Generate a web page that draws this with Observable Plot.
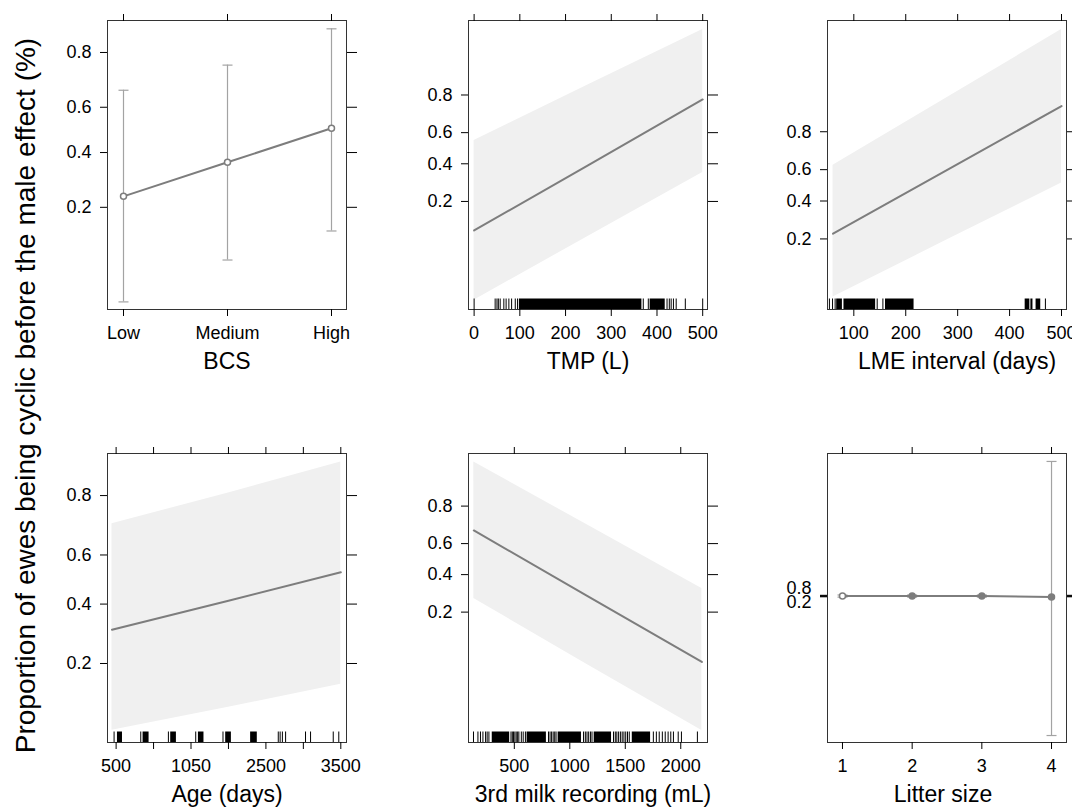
<!DOCTYPE html>
<html><head><meta charset="utf-8">
<script src="https://cdn.jsdelivr.net/npm/d3@7"></script>
<script src="https://cdn.jsdelivr.net/npm/@observablehq/plot@0.6"></script>
<style>
html,body{margin:0;padding:0;background:#fff;overflow:hidden;}
#chart{position:relative;width:1072px;height:808px;overflow:hidden;background:#fff;font-family:"Liberation Sans",Arial,sans-serif;}
</style></head><body><div id="chart"></div>
<script>
// ---------- data (fitted values on the logit / linear-predictor scale) ----------
const yTickProbs = [0.2, 0.4, 0.6, 0.8];
const yTitle = "Proportion of ewes being cyclic before the male effect (%)";

// BCS
const bcsLevels = ["Low", "Medium", "High"];
const bcsFit = [-1.19, -0.58, 0.03];
const bcsLower = [-3.08, -2.33, -1.81];
const bcsUpper = [0.71, 1.16, 1.81];

// TMP (L)
const tmpX = [0, 250, 500];
const tmpFit = [-2.14, -0.44, 1.27];
const tmpLower = [-3.96, -2.29, -0.63];
const tmpUpper = [0.20, 1.65, 3.09];
const tmpTicks = [0, 100, 200, 300, 400, 500];
const tmpRug = [0, 46, 50, 53, 57, 65, 70, 76, 82, 90, 95, 370, 381, 422, 427, 431, 436, 442, 462, 500];
const tmpRugBlocks = [[99, 367], [385, 418]];

// LME interval (days)
const lmeX = [60, 280, 500];
const lmeFit = [-1.25, 0.40, 2.05];
const lmeLower = [-2.89, -1.41, 0.06];
const lmeUpper = [0.52, 2.27, 4.03];
const lmeTicks = [100, 200, 300, 400, 500];
const lmeRug = [53, 59, 64, 145, 156, 469];
const lmeRugBlocks = [[67, 78], [81, 142], [161, 216], [430, 439], [441, 445], [451, 460]];

// Age (days)
const ageX = [445, 2000, 3500];
const ageFit = [-0.83, -0.35, 0.12];
const ageLower = [-2.49, -2.11, -1.73];
const ageUpper = [0.92, 1.43, 1.94];
const ageTicks = [500, 1000, 1500, 2000, 2500, 3000, 3500];
const ageTickLabels = ["500", "", "1050", "", "2500", "", "3500"];
const ageRug = [473, 829, 1198, 1563, 1927, 2665, 2690, 2720, 2763, 3029, 3096, 3399, 3473];
const ageRugBlocks = [[518, 585], [860, 940], [1229, 1305], [1599, 1673], [1963, 2039], [2296, 2385]];

// 3rd milk recording (mL)
const milkX = [135, 1160, 2190];
const milkFit = [0.75, -0.97, -2.69];
const milkLower = [-1.03, -2.76, -4.48];
const milkUpper = [2.54, 0.89, -0.77];
const milkTicks = [500, 1000, 1500, 2000];
const milkRug = [132, 172, 195, 217, 241, 255, 271, 470, 482, 493, 505, 517, 530, 541, 563, 580, 600,
  808, 822, 836, 850, 864, 876, 1124, 1140, 1155, 1170, 1186, 1200, 1394, 1410, 1424, 1440, 1456, 1472,
  1488, 1504, 1520, 1536, 1753, 1780, 1806, 1834, 1860, 1886, 1910, 1934, 1977, 2006, 2150];
const milkRugBlocks = [[301, 458], [615, 789], [895, 1105], [1220, 1376], [1563, 1728]];

// Litter size
const litterLevels = [1, 2, 3, 4];
const litterFit = [0, 0, 0, -1.9];
const litterLower = [-2, -2, -2, -258];
const litterUpper = [2, 2, 2, 249];
const litterShownLabels = [0.8, 0.2];

// ---------- helpers ----------
const logit = p => Math.log(p / (1 - p));
const invlogit = z => 1 / (1 + Math.exp(-z));
const FONT = '"Liberation Sans", Arial, sans-serif';
const FS = 18;
const FW = 239, FH = 289, RUG = 10.5;
const M = {top: 30, right: 20, bottom: 70, left: 80};
const BAND = "#f0f0f0", LINE = "#7d7d7d", ERR = "#a3a3a3";
const chart = document.getElementById("chart");
const yTicks = yTickProbs.map(logit);
const fmt = d3.format(".1f");

const capSymbol = {draw(ctx, size) { const r = Math.sqrt(size / Math.PI); ctx.moveTo(-r, 0); ctx.lineTo(r, 0); }};

function contMarks(xs, fit, lo, hi, rug, blocks) {
  const rows = xs.map((x, i) => ({x, fit: fit[i], lo: lo[i], hi: hi[i]}));
  return [
    Plot.areaY(rows, {x: "x", y1: "lo", y2: "hi", fill: BAND, clip: true}),
    Plot.rect(blocks, {x1: d => d[0], x2: d => d[1], insetTop: FH - RUG, fill: "#000"}),
    Plot.ruleX(rug, {x: d => d, insetTop: FH - RUG, stroke: "#000", strokeWidth: 1}),
    Plot.line(rows, {x: "x", y: "fit", stroke: LINE, strokeWidth: 2, clip: true})
  ];
}
function factorMarks(xs, fit, lo, hi, filledFrom) {
  const rows = xs.map((x, i) => ({x, fit: fit[i], lo: lo[i], hi: hi[i]}));
  return [
    Plot.ruleX(rows, {x: "x", y1: "lo", y2: "hi", stroke: ERR, strokeWidth: 1.2}),
    Plot.dot(rows, {x: "x", y: "lo", symbol: capSymbol, r: 5, stroke: ERR, strokeWidth: 1.2, fill: "none"}),
    Plot.dot(rows, {x: "x", y: "hi", symbol: capSymbol, r: 5, stroke: ERR, strokeWidth: 1.2, fill: "none"}),
    Plot.line(rows, {x: "x", y: "fit", stroke: LINE, strokeWidth: 2}),
    Plot.dot(rows.slice(0, filledFrom), {x: "x", y: "fit", r: 3, stroke: LINE, strokeWidth: 1.5, fill: "#fff"}),
    Plot.dot(rows.slice(filledFrom), {x: "x", y: "fit", r: 3, stroke: LINE, strokeWidth: 1.5, fill: LINE})
  ];
}

function panel({left, top, x, yDomain, xTicks, xFormat, title, titleDx = 0, marks, customY = false}) {
  const extra = [];
  if (customY) {
    extra.push(
      Plot.text([litterShownLabels[0]], {y: d => logit(d), text: d => fmt(d), frameAnchor: "left", textAnchor: "end", dx: -16, dy: -7, fontSize: FS}),
      Plot.text([litterShownLabels[1]], {y: d => logit(d), text: d => fmt(d), frameAnchor: "left", textAnchor: "end", dx: -16, dy: 5, fontSize: FS})
    );
  }
  const svg = Plot.plot({
    width: FW + M.left + M.right, height: FH + M.top + M.bottom,
    marginLeft: M.left, marginRight: M.right, marginTop: M.top, marginBottom: M.bottom,
    style: {fontFamily: FONT, fontSize: FS + "px", color: "#000", background: "transparent", overflow: "visible"},
    x, y: {type: "linear", domain: yDomain},
    marks: [
      ...marks,
      Plot.frame({stroke: "#333"}),
      Plot.axisX({anchor: "top", ticks: xTicks, tickFormat: () => "", tickSize: 7, label: null, stroke: "#000"}),
      Plot.axisX({anchor: "bottom", ticks: xTicks, tickFormat: xFormat, tickSize: 7, tickPadding: 10, label: null, stroke: "#000", fill: "#000", fontSize: FS}),
      Plot.axisY({anchor: "left", ticks: yTicks, tickFormat: customY ? () => "" : d => fmt(invlogit(d)), tickSize: 7, tickPadding: 9, label: null, stroke: "#000", fill: "#000", fontSize: FS}),
      Plot.axisY({anchor: "right", ticks: yTicks, tickFormat: () => "", tickSize: 10, label: null, stroke: "#000"}),
      ...extra,
      Plot.text([title], {text: d => d, frameAnchor: "bottom", lineAnchor: "bottom", dy: 59, dx: titleDx, fontSize: 23, fill: "#000"})
    ]
  });
  svg.style.position = "absolute";
  svg.style.left = (left - M.left) + "px";
  svg.style.top = (top - M.top) + "px";
  chart.append(svg);
}

const id = d => String(d);
const C = [107, 467.5, 827], R = [20, 453.3];

panel({left: C[0], top: R[0], x: {type: "point", domain: bcsLevels, padding: 0.144},
  yDomain: [-3.216, 1.959], xTicks: bcsLevels, xFormat: id, title: "BCS",
  marks: factorMarks(bcsLevels, bcsFit, bcsLower, bcsUpper, 3)});

panel({left: C[1], top: R[0], x: {type: "linear", domain: [-12.3, 510.5]},
  yDomain: [-4.20, 3.326], xTicks: tmpTicks, xFormat: id, title: "TMP (L)",
  marks: contMarks(tmpX, tmpFit, tmpLower, tmpUpper, tmpRug, tmpRugBlocks)});

panel({left: C[2], top: R[0], x: {type: "linear", domain: [49.3, 509.6]},
  yDomain: [-3.212, 4.264], xTicks: lmeTicks, xFormat: id, title: "LME interval (days)", titleDx: 10,
  marks: contMarks(lmeX, lmeFit, lmeLower, lmeUpper, lmeRug, lmeRugBlocks)});

const ageLabel = new Map(ageTicks.map((t, i) => [t, ageTickLabels[i]]));
panel({left: C[0], top: R[1], x: {type: "linear", domain: [385, 3576]},
  yDomain: [-2.691, 2.081], xTicks: ageTicks, xFormat: d => ageLabel.get(d), title: "Age (days)",
  marks: contMarks(ageX, ageFit, ageLower, ageUpper, ageRug, ageRugBlocks)});

panel({left: C[1], top: R[1], x: {type: "linear", domain: [87, 2241]},
  yDomain: [-4.796, 2.762], xTicks: milkTicks, xFormat: id, title: "3rd milk recording (mL)", titleDx: 5,
  marks: contMarks(milkX, milkFit, milkLower, milkUpper, milkRug, milkRugBlocks)});

panel({left: C[2], top: R[1], x: {type: "linear", domain: [0.785, 4.215]},
  yDomain: [-270.9, 263.7], xTicks: litterLevels, xFormat: id, title: "Litter size", titleDx: -4,
  customY: true, marks: factorMarks(litterLevels, litterFit, litterLower, litterUpper, 1)});

// shared y-axis title
const ns = "http://www.w3.org/2000/svg";
const ys = document.createElementNS(ns, "svg");
ys.setAttribute("width", 60); ys.setAttribute("height", 808);
ys.style.position = "absolute"; ys.style.left = "0px"; ys.style.top = "0px";
const yt = document.createElementNS(ns, "text");
yt.setAttribute("transform", "translate(35,395.5) rotate(-90)");
yt.setAttribute("text-anchor", "middle");
yt.setAttribute("font-family", FONT.replace(/"/g, ""));
yt.setAttribute("font-size", "28");
yt.setAttribute("fill", "#000");
yt.textContent = yTitle;
ys.append(yt);
chart.append(ys);
</script></body></html>
